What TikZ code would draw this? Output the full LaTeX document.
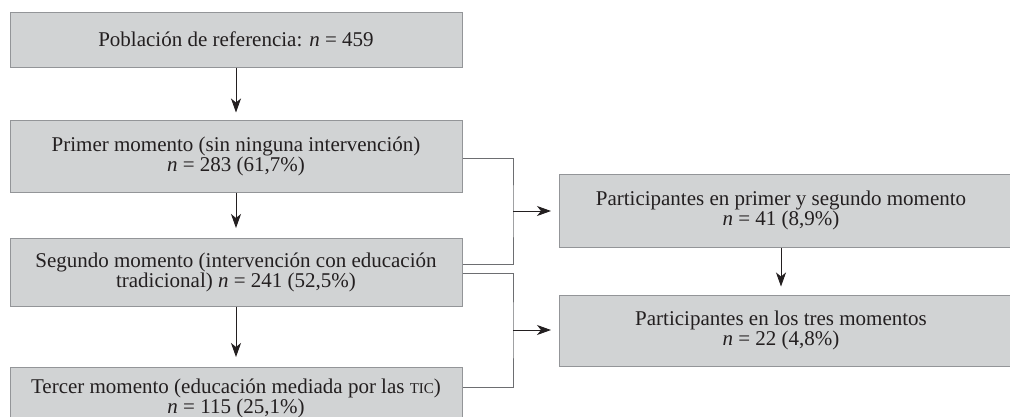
\documentclass[tikz,border=0pt]{standalone}
\usepackage{fontspec}
\setmainfont{Liberation Serif}
\usetikzlibrary{arrows.meta}
\definecolor{boxfill}{HTML}{D1D3D4}
\definecolor{boxline}{HTML}{939598}
\definecolor{connline}{HTML}{6D6E71}
\definecolor{ink}{HTML}{231F20}
\newcommand{\smallcapsTIC}{{\fontsize{15}{15}\selectfont TIC}}
\begin{document}
\begin{tikzpicture}[x=1pt,y=-1pt,
  box/.style={draw=boxline, fill=boxfill, line width=1pt, rectangle, inner sep=0pt},
  txt/.style={text=ink, align=center, font=\fontsize{21}{18}\selectfont, inner sep=0pt},
  boxtxt/.style={box, txt},
  arr/.style={draw=ink, line width=0.9pt, -{Stealth[length=14pt,width=10pt,inset=4pt]}},
  conn/.style={draw=connline, line width=1pt}
]
\useasboundingbox (0,0) rectangle (1010,416);
\clip (0,0) rectangle (1010,416);

% left column
\node[boxtxt, minimum width=452pt, minimum height=55pt] (P) at (236,39.5)
  {Población de referencia: \textit{n} = 459};
\node[boxtxt, minimum width=452pt, minimum height=72pt] (M1) at (236,156)
  {Primer momento (sin ninguna intervención)\\ \textit{n} = 283 (61,7\%)};
\node[boxtxt, minimum width=452pt, minimum height=68pt] (M2) at (236,272)
  {Segundo momento (intervención con educación\\ tradicional) \textit{n} = 241 (52,5\%)};
\node[boxtxt, minimum width=452pt, minimum height=62pt] (M3) at (236,398)
  {Tercer momento (educación mediada por las \smallcapsTIC)\\ \textit{n} = 115 (25,1\%)};

% right column
\node[box, minimum width=461pt, minimum height=73pt, anchor=west] (A) at (559,210.5) {};
\node[txt] (tA) at (781,210.5)
  {Participantes en primer y segundo momento\\ \textit{n} = 41 (8,9\%)};
\node[box, minimum width=461pt, minimum height=71pt, anchor=west] (B) at (559,330.5) {};
\node[txt] (tB) at (781,330.5)
  {Participantes en los tres momentos\\ \textit{n} = 22 (4,8\%)};

% vertical arrows
\draw[arr, shorten >=7pt] (P.south) -- (M1.north);
\draw[arr, shorten >=9.5pt] (M1.south) -- (M2.north);
\draw[arr, shorten >=9.5pt] (M2.south) -- (M3.north);
\draw[arr, shorten >=8pt] (A.south -| tA) -- (B.north -| tA);

% brackets
\coordinate (J1) at (513,211);
\coordinate (J2) at (513,330);
\draw[conn] ([yshift=-2pt]M1.east) -| (J1) |- ([yshift=8pt]M2.east);
\draw[conn] ([yshift=-1pt]M2.east) -| (J2) |- ([yshift=11pt]M3.east);
\draw[arr, shorten >=8pt] (J1) -- (J1 -| A.west);
\draw[arr, shorten >=8pt] (J2) -- (J2 -| B.west);
\end{tikzpicture}
\end{document}
